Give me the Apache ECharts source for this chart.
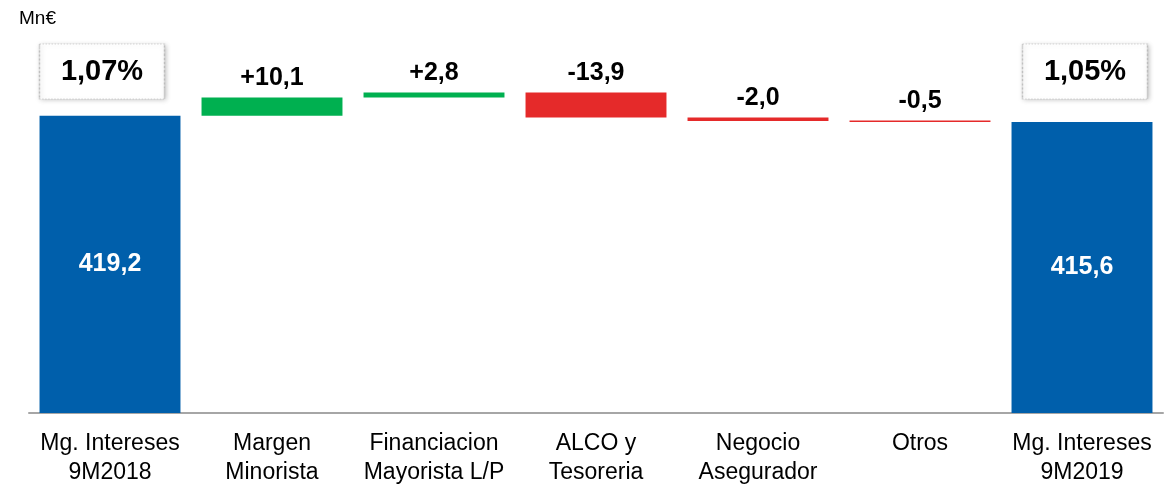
<!DOCTYPE html>
<html>
<head>
<meta charset="utf-8">
<script src="https://cdn.jsdelivr.net/npm/echarts@6/dist/echarts.min.js"></script>
<style>
  html, body { margin: 0; padding: 0; background: #fff; }
  #chart { width: 1168px; height: 490px; }
</style>
</head>
<body>
<div id="chart"></div>
<script>
// 瀑布图数据
const categories = [
    'Mg. Intereses\n9M2018', 'Margen\nMinorista', 'Financiacion\nMayorista L/P',
    'ALCO y\nTesoreria', 'Negocio\nAsegurador', 'Otros', 'Mg. Intereses\n9M2019'
];
const startValue = 419.2;
const endValue = 415.6;
const deltas = [10.1, 2.8, -13.9, -2.0, -0.5];
const pctLabels = ['1,07%', '1,05%'];

const FONT = "'Liberation Sans', Arial, sans-serif";
const PCT_BOX_Y = 443.7; // 百分比框中心所在的轴值

const fmt = v => v.toFixed(1).replace('.', ',');

// 由增减量累计出透明底座
const base = ['-'], ups = ['-'], downs = ['-'], totals = [startValue];
let running = startValue;
deltas.forEach(d => {
    const next = running + d;
    base.push(Math.min(running, next));
    ups.push(d > 0 ? d : '-');
    downs.push(d < 0 ? -d : '-');
    totals.push('-');
    running = next;
});
base.push('-'); ups.push('-'); downs.push('-'); totals.push(endValue);

const deltaLabel = {
    show: true, position: 'top', distance: 7,
    fontFamily: FONT, fontSize: 25, fontWeight: 'bold', color: '#000',
    formatter: p => {
        const d = deltas[p.dataIndex - 1];
        return (d > 0 ? '+' : '') + fmt(d);
    }
};

const chart = echarts.init(document.getElementById('chart'));
chart.setOption({
    backgroundColor: '#fff',
    animation: false,
    title: {
        text: 'Mn€', left: 14, top: 4,
        textStyle: { fontFamily: FONT, fontSize: 19, fontWeight: 'normal', color: '#000' }
    },
    grid: { left: 29, right: 5, top: 53, bottom: 77 },
    xAxis: {
        type: 'category',
        data: categories,
        axisTick: { show: false },
        axisLine: { lineStyle: { color: '#a6a6a6', width: 2 } },
        axisLabel: {
            interval: 0, margin: 16,
            fontFamily: FONT, fontSize: 23, lineHeight: 29, color: '#000'
        }
    },
    yAxis: {
        type: 'value', min: 254, max: 454, show: false,
        splitLine: { show: false }
    },
    series: [
        {
            name: 'base', type: 'bar', stack: 'wf', data: base,
            barCategoryGap: '13%',
            itemStyle: { color: 'transparent' },
            emphasis: { disabled: true }
        },
        {
            name: 'total', type: 'bar', stack: 'wf', data: totals,
            itemStyle: { color: '#005fab' },
            label: {
                show: true, position: 'inside',
                fontFamily: FONT, fontSize: 25, fontWeight: 'bold', color: '#fff',
                formatter: p => fmt(p.value)
            },
            markPoint: {
                symbol: 'rect',
                symbolSize: [125, 55],
                itemStyle: {
                    color: '#fff', borderColor: '#b0b0b0', borderWidth: 1, borderType: 'dotted',
                    shadowBlur: 5, shadowColor: 'rgba(0,0,0,0.25)', shadowOffsetX: 1, shadowOffsetY: 1
                },
                label: {
                    show: true, position: 'inside',
                    fontFamily: FONT, fontSize: 29, fontWeight: 'bold', color: '#000',
                    formatter: p => p.name
                },
                data: [
                    { name: pctLabels[0], coord: [categories[0], PCT_BOX_Y], symbolOffset: [-8, 0] },
                    { name: pctLabels[1], coord: [categories[categories.length - 1], PCT_BOX_Y], symbolOffset: [3, 0] }
                ]
            }
        },
        {
            name: 'up', type: 'bar', stack: 'wf', data: ups,
            itemStyle: { color: '#00b050' },
            label: deltaLabel
        },
        {
            name: 'down', type: 'bar', stack: 'wf', data: downs,
            barMinHeight: 1.5,
            itemStyle: { color: '#e52a2a' },
            label: deltaLabel
        }
    ]
});
</script>
</body>
</html>
